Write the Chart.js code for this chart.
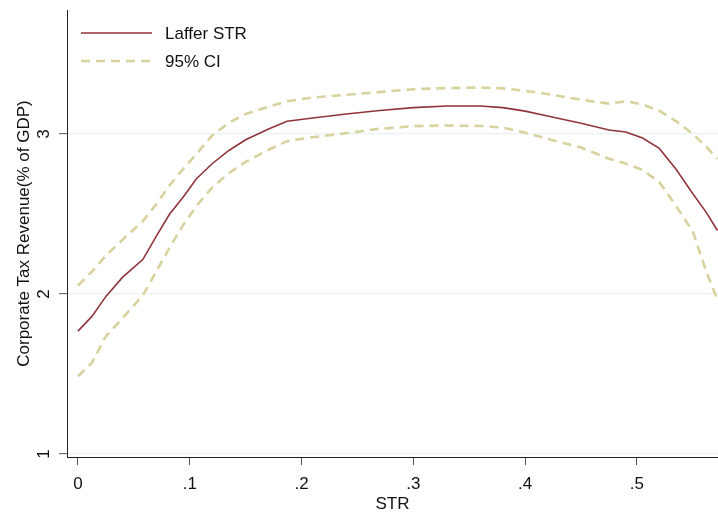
<!DOCTYPE html>
<html>
<head>
<meta charset="utf-8">
<script src="https://cdn.jsdelivr.net/npm/chart.js@4.4.1/dist/chart.umd.min.js"></script>
<style>
  html, body { margin: 0; padding: 0; background: #fff; }
  canvas { display: block; background: #fff; }
</style>
</head>
<body>
<canvas id="laffer" width="718" height="513"></canvas>
<script>
// STR grid and the three curves
const strValues = [0, 0.0125, 0.025, 0.04, 0.058, 0.07, 0.082, 0.094, 0.106, 0.12,
    0.135, 0.15, 0.17, 0.187, 0.21, 0.24, 0.27, 0.30, 0.33, 0.36,
    0.38, 0.40, 0.42, 0.45, 0.475, 0.49, 0.505, 0.52, 0.535, 0.55,
    0.562, 0.572];
const lafferValues = [1.768, 1.86, 1.985, 2.105, 2.215, 2.36, 2.50, 2.605, 2.72, 2.814,
    2.897, 2.964, 3.03, 3.08, 3.10, 3.125, 3.147, 3.165, 3.175, 3.175,
    3.165, 3.143, 3.113, 3.067, 3.025, 3.012, 2.975, 2.91, 2.78, 2.626,
    2.51, 2.397];
const ciUpper = [2.053, 2.14, 2.24, 2.34, 2.455, 2.56, 2.68, 2.78, 2.875, 2.99,
    3.07, 3.125, 3.17, 3.205, 3.228, 3.245, 3.262, 3.28, 3.287, 3.29,
    3.285, 3.27, 3.25, 3.214, 3.19, 3.205, 3.185, 3.145, 3.08, 3.0,
    2.92, 2.845];
const ciLower = [1.486, 1.57, 1.735, 1.85, 1.99, 2.14, 2.29, 2.43, 2.55, 2.665,
    2.755, 2.826, 2.9, 2.955, 2.98, 3.005, 3.033, 3.049, 3.053, 3.05,
    3.04, 3.008, 2.97, 2.915, 2.845, 2.815, 2.775, 2.70, 2.55, 2.39,
    2.14, 1.964];
const xTicks = [0, 0.1, 0.2, 0.3, 0.4, 0.5];
const xTickLabels = ['0', '.1', '.2', '.3', '.4', '.5'];
const yTicks = [1, 2, 3];

const RED = '#90353B';
const SAND = '#D7D29E';
const FONT = 'Liberation Sans, Arial, Helvetica, sans-serif';

function pts(ys) {
    return strValues.map((x, i) => ({ x: x, y: ys[i] }));
}

// stata style legend sitting inside the plot, top left
const insideLegend = {
    id: 'insideLegend',
    afterDraw(chart) {
        const ctx = chart.ctx;
        const a = chart.chartArea;
        const rows = [
            { label: 'Laffer STR', color: RED, width: 1.6, dash: [] },
            { label: '95% CI', color: SAND, width: 2.6, dash: [9, 6] }
        ];
        ctx.save();
        ctx.font = '17px ' + FONT;
        ctx.textBaseline = 'middle';
        rows.forEach((r, i) => {
            const y = a.top + 23 + i * 28;
            ctx.beginPath();
            ctx.strokeStyle = r.color;
            ctx.lineWidth = r.width;
            ctx.setLineDash(r.dash);
            ctx.moveTo(a.left + 14, y);
            ctx.lineTo(a.left + 85, y);
            ctx.stroke();
            ctx.setLineDash([]);
            ctx.fillStyle = '#111';
            ctx.fillText(r.label, a.left + 98, y + 1);
        });
        ctx.restore();
    }
};

const ctx = document.getElementById('laffer').getContext('2d');
new Chart(ctx, {
    type: 'line',
    data: {
        datasets: [
            {
                label: 'Laffer STR',
                data: pts(lafferValues),
                borderColor: RED,
                borderWidth: 1.6,
                pointRadius: 0,
                tension: 0,
                fill: false,
                order: 0
            },
            {
                label: '95% CI',
                data: pts(ciUpper),
                borderColor: SAND,
                borderWidth: 2.6,
                borderDash: [9, 6],
                pointRadius: 0,
                tension: 0,
                fill: false,
                order: 1
            },
            {
                label: '95% CI lower',
                data: pts(ciLower),
                borderColor: SAND,
                borderWidth: 2.6,
                borderDash: [9, 6],
                pointRadius: 0,
                tension: 0,
                fill: false,
                order: 1
            }
        ]
    },
    options: {
        responsive: false,
        devicePixelRatio: 1,
        animation: false,
        layout: { padding: { top: 10, right: 0, bottom: 0, left: 0 } },
        plugins: {
            legend: { display: false },
            tooltip: { enabled: false }
        },
        scales: {
            x: {
                type: 'linear',
                min: -0.0098,
                max: 0.5725,
                afterBuildTicks: (s) => { s.ticks = xTicks.map(v => ({ value: v })); },
                afterFit: (s) => {
                    s.height = 56;
                    s.paddingLeft = 0;
                    s.paddingRight = 0;
                },
                grid: {
                    display: true,
                    drawOnChartArea: false,
                    drawTicks: true,
                    tickLength: 8,
                    tickColor: '#555',
                    tickWidth: 1
                },
                border: { display: true, color: '#222', width: 1 },
                ticks: {
                    padding: 9,
                    color: '#111',
                    font: { family: FONT, size: 17 },
                    maxRotation: 0,
                    callback: (v) => {
                        const i = xTicks.indexOf(v);
                        return i >= 0 ? xTickLabels[i] : '';
                    }
                },
                title: {
                    display: true,
                    text: 'STR',
                    color: '#111',
                    font: { family: FONT, size: 17, lineHeight: 1 },
                    padding: { top: 0, bottom: 0 }
                }
            },
            y: {
                type: 'linear',
                min: 0.981,
                max: 3.775,
                afterBuildTicks: (s) => { s.ticks = yTicks.map(v => ({ value: v })); },
                afterFit: (s) => {
                    s.width = 67;
                    s.paddingTop = 0;
                    s.paddingBottom = 0;
                },
                grid: {
                    color: '#EAF2F3',
                    lineWidth: 1.3,
                    drawTicks: true,
                    tickLength: 8,
                    tickColor: '#555',
                    tickWidth: 1
                },
                border: { display: true, color: '#222', width: 1 },
                ticks: {
                    padding: 10,
                    color: '#111',
                    minRotation: 90,
                    maxRotation: 90,
                    crossAlign: 'center',
                    font: { family: FONT, size: 17 },
                    callback: (v) => String(v)
                },
                title: {
                    display: true,
                    text: 'Corporate Tax Revenue(% of GDP)',
                    color: '#111',
                    font: { family: FONT, size: 17 },
                    padding: { top: 14, bottom: 0 }
                }
            }
        }
    },
    plugins: [insideLegend]
});
</script>
</body>
</html>
